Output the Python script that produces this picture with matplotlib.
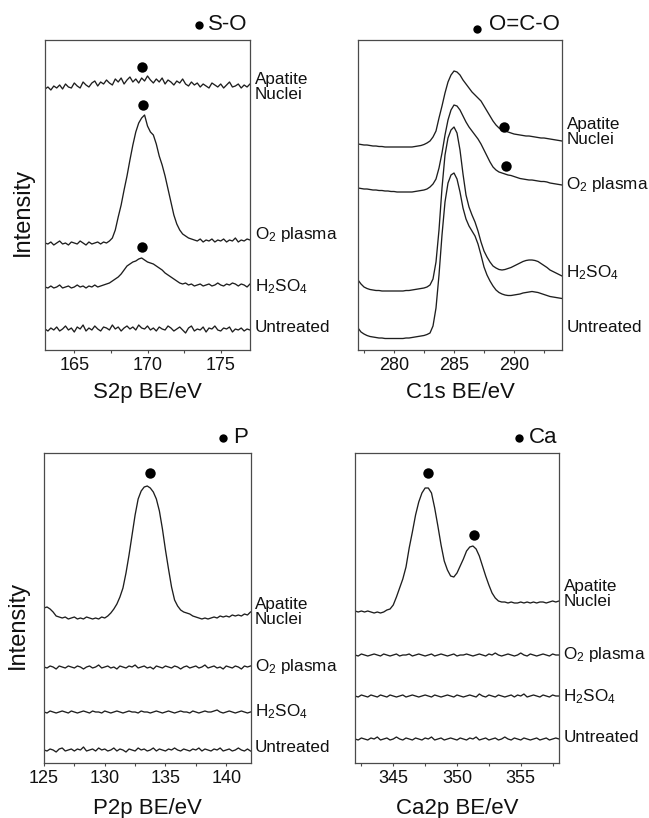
import numpy as np
import matplotlib
matplotlib.use('Agg')
import matplotlib.pyplot as plt
from matplotlib.ticker import MultipleLocator

plt.rcParams['font.family'] = ['Liberation Sans', 'DejaVu Sans']
plt.rcParams['mathtext.fontset'] = 'custom'
plt.rcParams['mathtext.rm'] = 'Liberation Sans'
plt.rcParams['mathtext.it'] = 'Liberation Sans:italic'
plt.rcParams['mathtext.default'] = 'regular'

# ---------------- data ----------------
sample_labels = ['Apatite\nNuclei', 'O$_2$ plasma', 'H$_2$SO$_4$', 'Untreated']

# S2p (163-177 eV, 0.2 eV step)
s2p_energy = np.linspace(163.0, 177.0, 71)
s2p_apatite = [261,263,260,264,262,265,261,266,263,262,267,264,262,268,265,263,267,269,264,268,
               266,270,267,265,271,268,272,266,270,273,268,271,267,272,269,274,270,267,271,268,
               272,266,270,268,265,269,267,271,266,264,268,265,267,263,266,264,262,267,265,263,
               266,262,265,268,263,264,266,262,265,263,266]
s2p_o2 = [107,106,108,105,107,109,106,107,105,108,107,106,109,107,105,108,106,107,108,106,
          108,107,109,112,120,133,145,160,174,190,205,218,227,232,235,224,218,215,206,194,
          185,174,161,148,135,126,120,116,114,112,111,110,109,111,108,110,109,111,108,110,
          109,111,108,110,109,112,108,110,109,111,110]
s2p_h2so4 = [63,62,64,62,63,65,62,63,64,62,63,65,63,64,62,64,63,65,63,64,
             65,66,67,69,71,73,76,80,84,86,88,89,91,92,90,88,87,86,84,82,
             80,77,75,73,71,69,67,66,67,65,66,64,65,66,64,65,66,64,65,67,
             65,64,66,65,67,66,64,66,65,63,66]
s2p_untreated = [21,19,22,20,23,19,21,24,20,22,18,23,21,25,19,22,20,24,21,19,
                 23,22,20,25,21,23,19,22,24,21,23,20,25,22,21,24,20,22,19,23,
                 21,20,24,22,19,21,23,20,17,22,24,19,21,20,23,18,22,21,24,20,
                 19,22,21,23,18,21,20,22,19,21,20]
s2p_dot_x = [169.6, 169.7, 169.6]
s2p_dot_y = [283, 245, 103]

# C1s (277-294 eV, 0.25 eV step)
c1s_energy = np.linspace(277.0, 294.0, 69)
c1s_apatite = [206,205.5,205,205,204.5,204,204,203.5,203.5,203,203,203,203,203,203,203,203,203,203,203.5,
               204,204.5,205.5,207,209,213,219,232,244,257,268,275,279,278,275,270,266,262,258,255,
               252,249,244,239,234,229,225,222,220,219,218,217,216,215.5,215,214.5,214,214,213.5,213,
               212.5,212,212,211.5,211,210.5,210,209.5,209]
c1s_o2 = [162,161.5,161,161,160.5,160,160,159.5,159.5,159,159,158.5,158.5,158,158,158,158,158,158,158.5,
          159,159.5,160,161,163,166,171,182,197,215,230,240,245,244,240,234,228,223,219,215,
          211,206,200,194,188,183,180,178,177,176,175,174.5,173.5,172.5,171.5,171,170.5,170,170,169.5,
          169,168.5,168.5,168,167,166.5,166,165.5,165]
c1s_h2so4 = [70,66,63,61.5,60.5,60,59.5,59.5,59,59,59,59,59,59,59,59,59.5,59.5,60,60.5,
             61,61.5,62,63,65,71,88,120,162,195,212,220,223,217,200,176,155,143,135,128,
             119,108,99,93,88,84,82,80.5,80,80.5,81.5,82.5,84,85.5,87,88.5,89.5,90,90,89.5,
             88.5,86.5,84.5,82.5,80,78.5,77,75.5,74]
c1s_untreated = [22,18,16,14.5,13.5,13,12.5,12,12,11.5,11.5,11.5,11.5,11.5,11.5,11.5,12,12,12.5,13,
                 13.5,14,14.5,15.5,17,24,42,75,115,148,167,175,177,171,158,142,131,124,119,114,
                 106,95,83,75,69,64,60,57.5,56,55,54.5,54.5,55,55.5,56,57,57.5,58,58.5,58,
                 57.5,56.5,55.5,54.5,53.5,53,52.5,52,51.5]
c1s_dot_x = [289.2, 289.3]
c1s_dot_y = [223, 184]

# P2p (125-142 eV, 0.25 eV step)
p2p_energy = np.linspace(125.0, 142.0, 69)
p2p_apatite = [155,156,154,151,147,146,145,146,144,145,146,144,145,144,146,145,144,145,144,146,
               145,147,150,154,159,166,175,190,208,228,248,264,272,276,277,275,271,264,252,234,
               213,194,176,163,157,153,151,150,149,147,146,145,144,145,144,145,146,145,147,146,
               147,146,148,147,148,147,149,148,151]
p2p_o2 = [96,95,97,96,94,97,96,95,97,96,95,97,96,94,96,97,95,96,98,95,
          96,97,95,96,94,97,96,95,97,96,98,95,96,97,95,96,94,97,96,95,
          97,96,95,97,96,94,96,97,95,96,97,95,96,98,95,96,97,95,96,94,
          97,96,95,97,96,94,97,96,97]
p2p_h2so4 = [51,50,52,51,50,51,52,51,50,52,51,50,51,52,51,50,52,51,51,50,
             52,51,50,51,52,51,50,51,52,51,51,50,52,51,51,50,51,52,51,50,
             51,52,51,50,51,52,51,51,50,52,51,50,51,52,51,51,52,53,51,50,
             51,52,51,50,51,52,51,50,51]
p2p_untreated = [13,12,14,13,11,14,15,12,13,14,12,14,13,16,12,13,14,12,15,13,
                 14,12,13,15,12,14,13,11,14,13,12,15,13,14,12,13,15,12,14,13,
                 12,14,13,15,13,12,14,13,12,14,13,15,12,14,13,12,14,13,15,12,
                 13,14,12,13,15,13,12,14,12]
p2p_dot_x = [133.7]
p2p_dot_y = [290]

# Ca2p (342-358 eV, 0.25 eV step)
ca2p_energy = np.linspace(342.0, 358.0, 65)
ca2p_apatite = [152,151,152,151,152,151,150,151,150,151,153,154,158,166,175,184,196,215,231,248,
                261,270,275,275,270,255,237,218,202,193,187,186,190,197,204,212,216,217,214,207,
                197,187,178,170,165,162,161,161,160,161,160,160,161,160,161,160,161,160,161,161,
                160,161,162,161,162]
ca2p_o2 = [108,107,109,108,107,108,109,108,107,109,108,107,108,109,107,108,108,109,107,108,
           109,108,107,108,109,107,108,109,108,107,108,109,107,108,108,109,108,107,108,109,
           108,107,109,108,110,108,107,108,109,108,107,108,110,108,107,109,108,107,108,109,
           108,107,109,108,108]
ca2p_h2so4 = [67,66,68,67,66,68,67,66,68,67,66,68,67,66,67,68,66,67,68,67,
              66,67,68,67,66,68,67,66,67,68,67,66,68,67,66,67,68,67,66,69,
              67,66,68,67,66,68,67,66,67,68,66,68,67,69,66,67,68,67,66,68,
              67,66,68,67,67]
ca2p_untreated = [24,23,25,24,23,25,24,26,23,24,25,23,24,26,24,23,25,24,23,25,
                  24,23,25,24,26,23,24,25,23,24,25,24,23,25,24,23,25,24,26,23,
                  24,25,23,24,25,23,24,26,24,23,25,24,23,25,24,23,24,25,23,24,
                  25,23,24,25,24]
ca2p_dot_x = [347.7, 351.3]
ca2p_dot_y = [290, 228]

# ---------------- figure ----------------
W, H = 649, 818
fig = plt.figure(figsize=(W / 100, H / 100), dpi=100)

def rect(l, t, r, b):
    return [l / W, (H - b) / H, (r - l) / W, (b - t) / H]

panels = [
    dict(rect=rect(45, 40, 250, 350), x=s2p_energy,
         ys=[s2p_apatite, s2p_o2, s2p_h2so4, s2p_untreated],
         dx=s2p_dot_x, dy=s2p_dot_y, xlim=(163, 177),
         label_y=[263, 115, 63, 22], xlabel='S2p BE/eV', title='S-O',
         tdot=(0.751, 1.048), lpad=6),
    dict(rect=rect(358, 40, 562, 350), x=c1s_energy,
         ys=[c1s_apatite, c1s_o2, c1s_h2so4, c1s_untreated],
         dx=c1s_dot_x, dy=c1s_dot_y, xlim=(277, 294),
         label_y=[218, 165, 77, 23], xlabel='C1s BE/eV', title='O=C-O',
         tdot=(0.583, 1.035), lpad=6),
    dict(rect=rect(44, 453, 250.5, 763), x=p2p_energy,
         ys=[p2p_apatite, p2p_o2, p2p_h2so4, p2p_untreated],
         dx=p2p_dot_x, dy=p2p_dot_y, xlim=(125, 142),
         label_y=[151, 96, 51, 15], xlabel='P2p BE/eV', title='P',
         tdot=(0.866, 1.048), lpad=8),
    dict(rect=rect(355, 453, 559, 763), x=ca2p_energy,
         ys=[ca2p_apatite, ca2p_o2, ca2p_h2so4, ca2p_untreated],
         dx=ca2p_dot_x, dy=ca2p_dot_y, xlim=(342, 358),
         label_y=[169, 108, 66, 25], xlabel='Ca2p BE/eV', title='Ca',
         tdot=(0.804, 1.048), lpad=8),
]

spine_col = '#4a4a4a'
line_col = '#1e1e1e'

for p in panels:
    ax = fig.add_axes(p['rect'])
    for y in p['ys']:
        ax.plot(p['x'], y, color=line_col, lw=0.95)
    ax.plot(p['dx'], p['dy'], 'o', color='black', ms=7.5, mec='none')
    ax.set_xlim(*p['xlim'])
    ax.set_ylim(0, 310)
    ax.set_yticks([])
    ax.xaxis.set_major_locator(MultipleLocator(5))
    ax.xaxis.set_minor_locator(MultipleLocator(2.5))
    ax.tick_params(axis='x', which='both', direction='out', length=2.5, width=0.8,
                   color=spine_col, labelsize=13, pad=2.5, labelcolor='#111111')
    for s in ax.spines.values():
        s.set_color(spine_col)
        s.set_linewidth(0.9)
    ax.set_xlabel(p['xlabel'], fontsize=16, labelpad=p['lpad'], color='#111111')
    for lab, ly in zip(sample_labels, p['label_y']):
        ax.text(1.022, ly, lab, transform=ax.get_yaxis_transform(), fontsize=12.3,
                va='center', ha='left', linespacing=1.0, color='#111111', clip_on=False)
    ax.text(0.99, 1.05, p['title'], transform=ax.transAxes, fontsize=16,
            ha='right', va='center', color='#111111')
    ax.plot([p['tdot'][0]], [p['tdot'][1]], 'o', color='black', ms=6, mec='none',
            transform=ax.transAxes, clip_on=False)

fig.text(23 / W, (H - 212) / H, 'Intensity', rotation=90, fontsize=17,
         ha='center', va='center', color='#111111')
fig.text(18 / W, (H - 625) / H, 'Intensity', rotation=90, fontsize=17,
         ha='center', va='center', color='#111111')

fig.savefig('out.png', dpi=100)
